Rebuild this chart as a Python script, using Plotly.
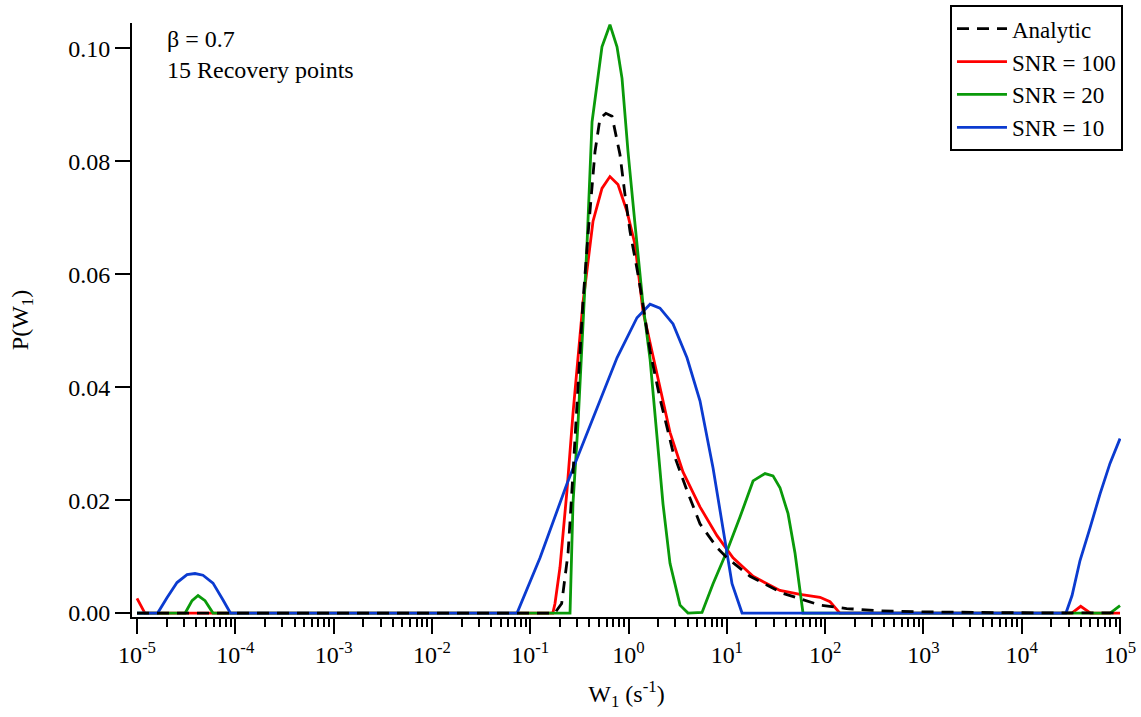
import numpy as np
import plotly.graph_objects as go

# Rate-distribution recovery for a stretched exponential (beta = 0.7)
# x values are log10(W1 / s^-1), y values are P(W1)

analytic_logw = [-5.0, -0.75, -0.68, -0.615, -0.565, -0.514, -0.463, -0.412, -0.371,
                 -0.341, -0.29, -0.23, -0.168, -0.087, -0.036, 0.015, 0.086, 0.137,
                 0.219, 0.32, 0.453, 0.595, 0.727, 0.9, 1.0, 1.236, 1.57, 1.95, 2.22,
                 2.56, 3.0, 3.5, 4.0, 5.0]
analytic_p = [0.0, 0.0, 0.0017, 0.0106, 0.0247, 0.0393, 0.0552, 0.067, 0.0752,
              0.0817, 0.0876, 0.0885, 0.088, 0.0812, 0.0741, 0.0676, 0.061, 0.0558,
              0.0464, 0.038, 0.0285, 0.0217, 0.0158, 0.0116, 0.0098, 0.0065, 0.0035,
              0.0014, 0.0008, 0.0004, 0.0002, 0.0001, 0.00005, 0.00002]

snr100_logw = [-5.0, -4.92, -0.77, -0.748, -0.697, -0.626, -0.565, -0.493, -0.463,
               -0.361, -0.27, -0.189, -0.107, -0.015, 0.066, 0.147, 0.29, 0.422,
               0.554, 0.727, 0.9, 1.063, 1.267, 1.54, 1.745, 1.948, 2.05, 2.15,
               4.51, 4.60, 4.70, 5.0]
snr100_p = [0.0026, 0.0, 0.0, 0.0017, 0.0081, 0.0217, 0.0353, 0.0494, 0.055,
            0.0694, 0.0752, 0.0773, 0.0759, 0.0711, 0.0653, 0.0535, 0.0425, 0.032,
            0.025, 0.0188, 0.0137, 0.0098, 0.0065, 0.004, 0.0033, 0.0028, 0.002, 0.0,
            0.0, 0.0012, 0.0, 0.0]

snr20_logw = [-5.0, -4.51, -4.44, -4.379, -4.308, -4.227, -0.595, -0.565, -0.514,
              -0.463, -0.422, -0.371, -0.27, -0.189, -0.117, -0.066, -0.005, 0.066,
              0.147, 0.219, 0.29, 0.351, 0.422, 0.524, 0.605, 0.748, 0.86, 1.002,
              1.134, 1.267, 1.389, 1.47, 1.541, 1.623, 1.694, 1.745, 1.775, 4.9, 5.0]
snr20_p = [0.0, 0.0, 0.0022, 0.0031, 0.0022, 0.0, 0.0, 0.0194, 0.0335,
           0.0512, 0.0653, 0.087, 0.1003, 0.1042, 0.1003, 0.0947, 0.0817, 0.0689,
           0.0547, 0.045, 0.0305, 0.0193, 0.0088, 0.0014, 0.0, 0.0001, 0.0052, 0.011,
           0.017, 0.0234, 0.0247, 0.0243, 0.0222, 0.0176, 0.0106, 0.004, 0.0, 0.0, 0.0013]

snr10_logw = [-5.0, -4.79, -4.695, -4.593, -4.491, -4.41, -4.329, -4.227, -4.125,
              -4.05, -1.134, -0.9, -0.626, -0.361, -0.117, 0.086, 0.219, 0.32, 0.453,
              0.595, 0.727, 0.86, 0.961, 1.053, 1.155, 4.45, 4.512, 4.593, 4.695,
              4.797, 4.898, 5.0]
snr10_p = [0.0, 0.0, 0.0027, 0.0054, 0.0068, 0.007, 0.0067, 0.0053, 0.0023,
           0.0, 0.0, 0.0098, 0.0229, 0.0346, 0.0452, 0.0523, 0.0547, 0.054, 0.0512,
           0.0452, 0.0376, 0.0257, 0.0146, 0.0052, 0.0, 0.0, 0.0031, 0.0093, 0.0151,
           0.0211, 0.0265, 0.0309]

decades = list(range(-5, 6))
tick_text = [f"10<sup>{d}</sup>" for d in decades]

FONT = "Liberation Serif, Times New Roman, serif"
LW = 2.8

series = [
    ("Analytic", analytic_logw, analytic_p, "black", "12px,8px"),
    ("SNR = 100", snr100_logw, snr100_p, "#ff0000", "solid"),
    ("SNR = 20", snr20_logw, snr20_p, "#0a9a0a", "solid"),
    ("SNR = 10", snr10_logw, snr10_p, "#0b3bd0", "solid"),
]

fig = go.Figure()
# solid curves first, analytic dashed on top; legend order kept via rank
draw_order = [1, 2, 3, 0]
for i in draw_order:
    name, lw, p, color, dash = series[i]
    fig.add_trace(go.Scatter(
        x=10 ** np.asarray(lw, dtype=float), y=p, mode="lines", name=name,
        line=dict(color=color, width=LW, dash=dash),
        legendrank=i + 1,
    ))

minor_vals = [k * 10.0 ** d for d in decades[:-1] for k in range(2, 10)]

fig.update_layout(
    width=1141, height=717,
    margin=dict(l=132, r=20, t=23, b=100, autoexpand=False),
    paper_bgcolor="white", plot_bgcolor="white",
    font=dict(family=FONT, size=24, color="black"),
    showlegend=True,
    legend=dict(x=1.002, y=1.030, xanchor="right", yanchor="top",
                bordercolor="black", borderwidth=2, bgcolor="white",
                font=dict(family=FONT, size=23), tracegroupgap=0,
                itemwidth=50),
    xaxis=dict(
        type="log", range=[-5.051, 5.01],
        tickmode="array", tickvals=[10.0 ** d for d in decades], ticktext=tick_text,
        ticks="outside", ticklen=15, tickwidth=2, tickcolor="black",
        showline=True, linewidth=2, linecolor="black",
        showgrid=False, zeroline=False,
        minor=dict(tickmode="array", tickvals=minor_vals, ticks="outside",
                   ticklen=8, tickwidth=2, tickcolor="black", showgrid=False),
        title=dict(text="W<sub>1</sub> (s<sup>-1</sup>)", standoff=18,
                   font=dict(family=FONT, size=24)),
    ),
    yaxis=dict(
        range=[-0.0007, 0.1045],
        tickmode="array", tickvals=[0.0, 0.02, 0.04, 0.06, 0.08, 0.10],
        ticktext=["0.00", "0.02", "0.04", "0.06", "0.08", "0.10"],
        ticks="outside", ticklen=15, tickwidth=2, tickcolor="black",
        showline=True, linewidth=2, linecolor="black",
        showgrid=False, zeroline=False,
        title=dict(text="P(W<sub>1</sub>)", standoff=33,
                   font=dict(family=FONT, size=24)),
    ),
)

fig.add_annotation(xref="paper", yref="paper", x=0.033, y=0.998,
                   xanchor="left", yanchor="top", showarrow=False, align="left",
                   text="β = 0.7<br>15 Recovery points",
                   font=dict(family=FONT, size=24, color="black"))

fig.write_html("out.html")
